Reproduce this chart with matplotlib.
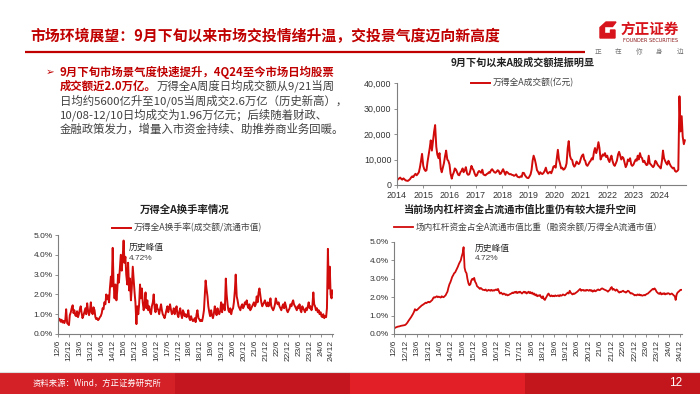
import numpy as np
import pandas as pd
import matplotlib
matplotlib.use('Agg')
from matplotlib import pyplot as plt
from matplotlib.patches import Rectangle, Polygon

plt.rcParams['font.family'] = ['Noto Sans CJK SC', 'DejaVu Sans']

# ---- data (semi-monthly readings from the source charts) ----
# 万得全A成交额(亿元), 2014-01 .. 2024-12
amount = [
    1800, 2300, 2600, 2900, 2400, 2100, 2600, 2200, 1800, 1700, 1600, 1900, 2300, 2900, 3400, 3100, 3900, 4400, 3800, 4300, 5000, 6800, 9500, 12200,  # 2014
    7500, 6200, 5500, 5800, 9000, 11500, 14500, 17500, 13500, 17000, 21000, 23500, 15000, 12000, 10500, 12500, 6500, 5000, 6800, 8500, 11500, 13500, 10000, 9500,  # 2015
    8000, 4500, 2500, 4000, 5000, 6500, 6000, 5000, 4000, 3800, 5000, 5500, 6500, 5000, 5800, 7000, 4500, 4000, 4200, 5500, 7500, 6500, 5800, 4500,  # 2016
    3500, 3800, 5000, 5500, 5200, 4800, 6000, 4200, 3900, 3800, 4300, 4500, 5000, 4800, 5800, 6200, 5500, 5000, 4800, 5200, 5800, 5500, 4300, 4500,  # 2017
    5500, 6200, 5000, 4000, 5200, 5000, 4500, 4200, 4300, 4000, 3900, 3600, 3800, 4200, 3300, 3100, 3000, 3400, 3200, 4800, 4700, 3800, 3200, 2800,  # 2018
    2700, 3300, 4200, 6000, 9500, 11500, 10000, 8200, 5800, 5200, 4200, 5000, 4500, 4300, 4800, 5500, 6800, 5200, 4500, 4900, 5200, 4600, 5800, 7200,  # 2019
    7500, 6800, 10500, 13800, 10000, 8500, 6500, 6800, 6000, 6200, 7000, 8500, 14500, 17200, 11500, 10200, 9800, 8000, 7200, 7800, 9200, 8600, 8200, 8800,  # 2020
    10500, 11500, 12000, 10000, 9500, 8000, 7500, 8200, 9000, 9500, 10500, 10000, 13000, 14500, 12500, 14000, 16800, 14500, 10000, 11000, 12000, 11500, 12500, 11000,  # 2021
    11500, 10000, 9000, 10500, 11500, 9500, 8000, 7500, 8500, 9500, 12000, 13000, 11500, 10000, 11000, 10500, 8500, 7000, 8000, 10000, 9500, 10500, 8000, 7500,  # 2022
    8000, 9000, 10000, 9500, 11500, 10000, 12500, 11000, 10500, 9000, 9500, 8500, 7800, 8000, 11500, 8500, 8000, 7500, 7000, 7600, 9500, 9000, 8000, 7500,  # 2023
    7000, 6500, 9500, 13500, 10500, 9500, 8500, 8000, 9500, 8500, 7500, 7000, 6500, 6800, 5500, 5200, 5500, 6000, 34800, 21000, 27000, 19000, 16000, 17500,  # 2024
]
amount_years = [2014, 2015, 2016, 2017, 2018, 2019, 2020, 2021, 2022, 2023, 2024]

# 万得全A换手率(%), 2012-06 .. 2024-12
turnover = [
    0.85, 0.70, 0.75, 0.62, 0.72, 0.58, 0.66, 0.55, 0.70, 1.25, 0.55, 0.50, 0.45, 0.95,  # 2012
    1.10, 1.30, 1.45, 1.05, 1.20, 0.95, 0.90, 1.15, 0.85, 1.00, 1.25, 1.40, 1.05, 0.80, 0.95, 1.10, 1.30, 1.00, 1.55, 1.20, 0.95, 1.15, 1.60, 1.10,  # 2013
    1.00, 1.35, 1.20, 0.85, 0.75, 0.80, 0.70, 0.75, 0.85, 0.90, 1.05, 1.30, 1.25, 1.60, 1.50, 2.00, 1.75, 1.95, 1.60, 2.30, 2.90, 2.40, 4.35, 2.60,  # 2014
    1.80, 2.50, 1.70, 2.20, 3.00, 2.60, 3.40, 4.00, 3.20, 3.80, 4.72, 3.60, 3.90, 3.00, 2.50, 3.60, 2.20, 2.80, 1.70, 2.30, 3.40, 2.80, 2.10, 1.60,  # 2015
    0.50, 1.40, 1.00, 1.50, 2.50, 1.80, 2.30, 1.60, 1.20, 1.50, 2.10, 1.30, 1.70, 1.20, 1.40, 1.10, 1.00, 1.40, 1.60, 2.00, 1.30, 1.10, 1.50, 1.30,  # 2016
    1.20, 1.00, 1.30, 1.50, 1.20, 1.00, 0.90, 0.80, 1.00, 1.20, 1.40, 1.10, 1.30, 1.50, 1.20, 1.00, 1.10, 1.30, 1.00, 1.20, 1.40, 1.00, 0.85, 1.10,  # 2017
    1.30, 1.00, 0.80, 1.20, 1.10, 0.90, 1.00, 0.85, 0.90, 1.20, 0.80, 0.70, 0.90, 0.75, 0.65, 0.70, 0.80, 0.60, 1.00, 1.20, 0.80, 0.75, 0.65, 0.70,  # 2018
    0.65, 0.85, 1.20, 2.00, 2.70, 2.30, 1.90, 1.40, 1.10, 0.90, 1.20, 0.95, 0.80, 1.00, 1.40, 1.10, 0.95, 1.30, 1.10, 1.00, 1.20, 1.60, 1.10, 1.50,  # 2019
    1.40, 1.20, 2.80, 2.00, 1.50, 1.20, 1.10, 1.30, 1.00, 1.20, 1.30, 1.60, 2.20, 3.00, 1.90, 1.70, 1.40, 1.30, 1.20, 1.40, 1.50, 1.30, 1.40, 1.60,  # 2020
    1.50, 1.70, 1.40, 1.30, 1.50, 1.20, 1.30, 1.40, 1.50, 1.60, 1.40, 1.50, 1.90, 1.60, 2.10, 2.30, 1.90, 1.60, 1.40, 1.50, 1.60, 1.70, 1.50, 1.40,  # 2021
    1.60, 1.40, 1.50, 1.80, 1.40, 1.30, 1.20, 1.30, 1.50, 1.80, 1.60, 1.50, 1.60, 1.40, 1.30, 1.20, 1.40, 1.50, 1.30, 1.60, 1.40, 1.20, 1.10, 1.20,  # 2022
    1.30, 1.50, 1.40, 1.60, 1.70, 1.50, 1.40, 1.30, 1.20, 1.40, 1.30, 1.50, 1.20, 1.10, 1.40, 1.30, 1.20, 1.10, 1.30, 1.20, 1.40, 1.60, 1.30, 1.40,  # 2023
    1.20, 1.40, 2.10, 1.50, 1.40, 1.20, 1.30, 1.10, 1.20, 1.00, 1.10, 0.90, 0.85, 1.00, 0.80, 0.90, 0.85, 1.30, 4.30, 2.30, 3.40, 2.00, 1.80, 2.20,  # 2024
]

# 融资余额/万得全A流通市值(%), 2012-06 .. 2024-12
leverage = [
    0.30, 0.33, 0.36, 0.38, 0.40, 0.41, 0.42, 0.44, 0.45, 0.46, 0.47, 0.48, 0.50, 0.55,  # 2012
    0.62, 0.70, 0.78, 0.85, 0.92, 1.00, 1.10, 1.20, 1.35, 1.28, 1.30, 1.35, 1.40, 1.45, 1.50, 1.55, 1.58, 1.62, 1.65, 1.70, 1.68, 1.72, 1.75, 1.72,  # 2013
    1.75, 1.80, 1.85, 1.95, 2.00, 1.98, 2.02, 2.05, 2.00, 2.03, 2.00, 1.98, 2.05, 2.02, 2.00, 2.05, 2.10, 2.20, 2.30, 2.50, 2.70, 2.80, 2.95, 3.10,  # 2014
    3.20, 3.30, 3.35, 3.45, 3.55, 3.65, 3.80, 3.90, 4.00, 4.20, 4.40, 4.72, 3.60, 3.40, 3.30, 3.00, 2.75, 2.65, 2.70, 2.90, 3.00, 2.95, 3.05, 2.85,  # 2015
    2.75, 2.60, 2.55, 2.50, 2.45, 2.50, 2.45, 2.40, 2.40, 2.38, 2.42, 2.35, 2.35, 2.40, 2.38, 2.35, 2.40, 2.35, 2.38, 2.36, 2.40, 2.42, 2.38, 2.45,  # 2016
    2.30, 2.20, 2.25, 2.20, 2.15, 2.20, 2.18, 2.12, 2.15, 2.10, 2.12, 2.15, 2.18, 2.20, 2.25, 2.22, 2.28, 2.25, 2.30, 2.22, 2.28, 2.25, 2.30, 2.25,  # 2017
    2.20, 2.25, 2.30, 2.25, 2.28, 2.20, 2.25, 2.30, 2.22, 2.28, 2.20, 2.25, 2.15, 2.20, 2.10, 2.15, 2.05, 2.10, 2.08, 2.12, 2.00, 1.95, 2.05, 1.90,  # 2018
    1.85, 1.95, 2.05, 2.15, 2.20, 2.10, 2.05, 2.10, 2.05, 2.08, 2.05, 2.10, 2.06, 2.08, 2.10, 2.05, 2.12, 2.08, 2.10, 2.15, 2.12, 2.10, 2.15, 2.20,  # 2019
    2.25, 2.20, 2.35, 2.25, 2.20, 2.15, 2.20, 2.18, 2.22, 2.25, 2.30, 2.35, 2.40, 2.45, 2.35, 2.38, 2.40, 2.35, 2.38, 2.35, 2.40, 2.38, 2.35, 2.40,  # 2020
    2.35, 2.38, 2.30, 2.35, 2.38, 2.32, 2.35, 2.40, 2.42, 2.38, 2.40, 2.45, 2.48, 2.45, 2.42, 2.40, 2.38, 2.35, 2.30, 2.35, 2.40, 2.50, 2.55, 2.40,  # 2021
    2.45, 2.40, 2.35, 2.42, 2.38, 2.30, 2.25, 2.30, 2.28, 2.32, 2.35, 2.30, 2.28, 2.25, 2.30, 2.35, 2.32, 2.25, 2.20, 2.22, 2.18, 2.15, 2.10, 2.12,  # 2022
    2.10, 2.15, 2.12, 2.15, 2.10, 2.12, 2.08, 2.10, 2.12, 2.10, 2.15, 2.18, 2.20, 2.25, 2.30, 2.35, 2.40, 2.45, 2.42, 2.48, 2.40, 2.30, 2.25, 2.20,  # 2023
    2.18, 2.25, 2.15, 2.20, 2.18, 2.22, 2.15, 2.20, 2.18, 2.22, 2.20, 2.15, 2.18, 2.20, 2.15, 2.10, 2.05, 1.85, 2.15, 2.25, 2.30, 2.35, 2.40, 2.40,  # 2024
]

half_year_labels = ['12/6', '12/12', '13/6', '13/12', '14/6', '14/12', '15/6', '15/12', '16/6', '16/12',
                    '17/6', '17/12', '18/6', '18/12', '19/6', '19/12', '20/6', '20/12', '21/6', '21/12',
                    '22/6', '22/12', '23/6', '23/12', '24/6', '24/12']

title = '市场环境展望：9月下旬以来市场交投情绪升温，交投景气度迈向新高度'
bullet_red = ['9月下旬市场景气度快速提升，4Q24至今市场日均股票', '成交额近2.0万亿。']
bullet_gray = ['万得全A周度日均成交额从9/21当周',
               '日均约5600亿升至10/05当周成交2.6万亿（历史新高），',
               '10/08-12/10日均成交为1.96万亿元；后续随着财政、',
               '金融政策发力，增量入市资金持续、助推券商业务回暖。']

RED = '#C00000'
LINE = '#D10A0A'
GRAY = '#404040'
W, H = 700, 394

fig = plt.figure(figsize=(7, 3.94), dpi=100)
bg = fig.add_axes([0, 0, 1, 1])
bg.set_xlim(0, W)
bg.set_ylim(H, 0)
bg.axis('off')

def box(l, t, r, b):
    return [l / W, 1 - b / H, (r - l) / W, (b - t) / H]

# ---- header ----
bg.text(30, 36, title, color=RED, fontsize=10.7, fontweight='bold', va='center')
bg.plot([25, 585], [52, 52], color=RED, lw=1.6, solid_capstyle='butt')
logo = [(606, 22), (616, 22), (612.5, 26.5), (604.5, 26.5), (604.5, 33.5), (610.5, 33.5),
        (610.5, 30), (615, 30), (615, 38), (600, 38), (600, 27.5)]
bg.add_patch(Polygon(logo, closed=True, color='#D7141C'))
bg.text(650, 29, '方正证券', color='#D7141C', fontsize=10.5, fontweight='bold', ha='center', va='center')
bg.text(651, 40, 'FOUNDER SECURITIES', color='#8B1A1A', fontsize=3.6, ha='center', va='center', family=['DejaVu Sans'])
for i, ch in enumerate('正在你身边'):
    bg.text(598 + 20.5 * i, 52, ch, color='#777777', fontsize=4.8, ha='center', va='center')

# ---- bullet text ----
bg.text(46, 72, '➢', color=RED, fontsize=7.5, va='center', family=['DejaVu Sans'])
t = bg.text(60, 72, bullet_red[0], color=RED, fontsize=8.2, fontweight='bold', va='center')
t = bg.text(60, 86, bullet_red[1], color=RED, fontsize=8.2, fontweight='bold', va='center')
bg.annotate(bullet_gray[0], xy=(1, 0.5), xycoords=t, color=GRAY, fontsize=8.2, va='center', ha='left')
for i, s in enumerate(bullet_gray[1:]):
    bg.text(60, 100.2 + 14.2 * i, s, color=GRAY, fontsize=8.2, va='center')

# ---- footer ----
for x0, c in zip([0, 175, 350, 525], ['#D42027', '#C3161E', '#E21E26', '#C3161C']):
    bg.add_patch(Rectangle((x0, 372), 175, 22, color=c, lw=0))
bg.plot([0, 700], [371.5, 371.5], color='#DDDDDD', lw=0.8)
bg.text(33, 383, '资料来源：Wind，方正证券研究所', color='white', fontsize=6, style='italic', va='center')
bg.text(676, 383, '12', color='white', fontsize=8.5, ha='center', va='center', family=['Liberation Sans'])

def style_axes(ax):
    for s in ['top', 'right']:
        ax.spines[s].set_visible(False)
    for s in ['left', 'bottom']:
        ax.spines[s].set_color('#7F7F7F')
        ax.spines[s].set_linewidth(0.8)
    ax.tick_params(axis='both', direction='out', length=2.5, width=0.6, color='#7F7F7F',
                   labelsize=6, labelcolor='#333333', pad=1.5, labelfontfamily='Liberation Sans')
    ax.set_facecolor('none')

# ---- chart 1: 成交额 ----
ax1 = fig.add_axes(box(397, 83, 686, 185))
d1 = pd.date_range('2014-01-01', periods=len(amount), freq='SMS')
ax1.plot(d1, amount, color=LINE, lw=1.4, label='万得全A成交额(亿元)')
ax1.set_ylim(0, 40000)
ax1.set_yticks([0, 10000, 20000, 30000, 40000])
ax1.set_yticklabels(['{:,}'.format(v) for v in [0, 10000, 20000, 30000, 40000]])
ax1.set_xlim(pd.Timestamp('2014-01-01'), pd.Timestamp('2024-12-31'))
ax1.set_xticks([pd.Timestamp(f'{y}-01-01') for y in amount_years])
ax1.set_xticklabels([str(y) for y in amount_years])
style_axes(ax1)
ax1.tick_params(labelsize=6.4)
ax1.legend(loc='center left', bbox_to_anchor=(471 / W, 1 - 83 / H), bbox_transform=fig.transFigure,
           frameon=False, fontsize=6.3, handlelength=2.2, handletextpad=0.3, borderpad=0, borderaxespad=0,
           labelcolor=GRAY)
bg.text(523, 63, '9月下旬以来A股成交额提振明显', fontsize=7.3, fontweight='bold', ha='center', va='center', color='#222222')

half_ticks = [pd.Timestamp(f'20{s.split("/")[0]}-{int(s.split("/")[1]):02d}-01') for s in half_year_labels]

# ---- chart 2: 换手率 ----
ax2 = fig.add_axes(box(58, 235, 333, 334))
d2 = pd.date_range('2012-06-01', periods=len(turnover), freq='SMS')
ax2.plot(d2, turnover, color=LINE, lw=1.4, label='万得全A换手率(成交额/流通市值)')
ax2.set_ylim(0, 5)
ax2.set_yticks([0, 1, 2, 3, 4, 5])
ax2.set_yticklabels(['{:.1f}%'.format(v) for v in [0, 1, 2, 3, 4, 5]])
ax2.set_xlim(pd.Timestamp('2012-06-01'), pd.Timestamp('2024-12-25'))
ax2.set_xticks(half_ticks)
ax2.set_xticklabels(half_year_labels, rotation=90)
style_axes(ax2)
ax2.legend(loc='center left', bbox_to_anchor=(112 / W, 1 - 228 / H), bbox_transform=fig.transFigure,
           frameon=False, fontsize=6.3, handlelength=2.2, handletextpad=0.3, borderpad=0, borderaxespad=0,
           labelcolor=GRAY)
bg.text(185, 210, '万得全A换手率情况', fontsize=7.5, fontweight='bold', ha='center', va='center', color='#222222')
bg.text(129, 247, '历史峰值', fontsize=6.3, va='center', color='#222222')
bg.text(129, 258, '4.72%', fontsize=6, va='center', color='#444444', family=['Liberation Sans'])

# ---- chart 3: 杠杆资金占比 ----
ax3 = fig.add_axes(box(394, 242, 682, 334))
ax3.plot(d2[:len(leverage)], leverage, color=LINE, lw=1.3,
         label='场内杠杆资金占全A流通市值比重（融资余额/万得全A流通市值）')
ax3.set_ylim(0, 5)
ax3.set_yticks([0, 1, 2, 3, 4, 5])
ax3.set_yticklabels(['{:.1f}%'.format(v) for v in [0, 1, 2, 3, 4, 5]])
ax3.set_xlim(pd.Timestamp('2012-06-01'), pd.Timestamp('2024-12-25'))
ax3.set_xticks(half_ticks)
ax3.set_xticklabels(half_year_labels, rotation=90)
style_axes(ax3)
ax3.legend(loc='center left', bbox_to_anchor=(394 / W, 1 - 228 / H), bbox_transform=fig.transFigure,
           frameon=False, fontsize=6.2, handlelength=2.2, handletextpad=0.3, borderpad=0, borderaxespad=0,
           labelcolor=GRAY)
bg.text(520, 210, '当前场内杠杆资金占流通市值比重仍有较大提升空间', fontsize=7.3, fontweight='bold', ha='center', va='center', color='#222222')
bg.text(475, 248, '历史峰值', fontsize=6.3, va='center', color='#222222')
bg.text(475, 259, '4.72%', fontsize=6, va='center', color='#444444', family=['Liberation Sans'])

fig.savefig('out.png', dpi=100)
